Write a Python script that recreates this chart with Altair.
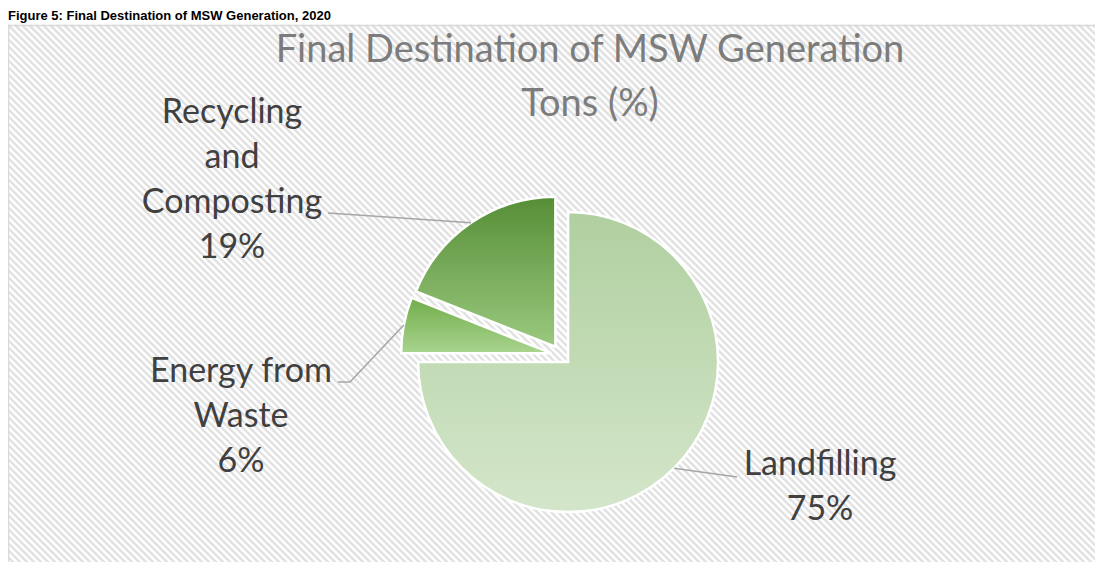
import math
import altair as alt
import pandas as pd

# ---- data ----
categories = ["Landfilling", "Energy from Waste", "Recycling and Composting"]
values = [75, 6, 19]
label_lines = ["Landfilling", "Energy from\nWaste", "Recycling\nand\nComposting"]
title_lines = ["Final Destination of MSW Generation", "Tons (%)"]
header = "Figure 5: Final Destination of MSW Generation, 2020"

# ---- style / layout ----
W, H = 1087, 554
BOX_TOP = 17
CX, CY = 553, 347
R = 150
EXPLODE = 10
grad = {
    "Landfilling": ("#b0cfa0", "#d4e6ca"),
    "Energy from Waste": ("#72ad4b", "#a9d48f"),
    "Recycling and Composting": ("#568e36", "#9bc97f"),
}
label_anchor = {
    "Landfilling": (812, 467),
    "Energy from Waste": (233, 374),
    "Recycling and Composting": (224, 115),
}
leader_start = {
    "Landfilling": [(729, 469)],
    "Energy from Waste": [(330, 374), (342, 374)],
    "Recycling and Composting": [(320, 205)],
}
LABEL_FONT = "Lato"
TEXT_COLOR = "#404040"

total = sum(values)
rows, lead = [], []
cum = 0
for i, (cat, v, lab) in enumerate(zip(categories, values, label_lines)):
    start, end = cum, cum + v
    cum = end
    mid = (start + v / 2) / total * 2 * math.pi
    px = CX + EXPLODE * math.sin(mid)
    py = CY - EXPLODE * math.cos(mid)
    tx, ty = label_anchor[cat]
    rows.append(dict(category=cat, value=v, start=start, end=end, px=px, py=py,
                     text=f"{lab}\n{v}%", tx=tx, ty=ty))
    pts = list(leader_start[cat]) + [(px + R * math.sin(mid), py - R * math.cos(mid))]
    for j, (lx, ly) in enumerate(pts):
        lead.append(dict(category=cat, seq=j, lx=lx, ly=ly))

pie_df = pd.DataFrame(rows)
lead_df = pd.DataFrame(lead)
one = pd.DataFrame({"a": [0]})

# background hatch
hatch = alt.Chart(alt.sequence(-H - 20, W + 20, 7, as_="x0")).transform_calculate(
    xe=f"datum.x0 + {H + 10 - BOX_TOP}"
).mark_rule(color="#e2e2e2", strokeWidth=2.6).encode(
    x=alt.X("x0:Q", scale=None), x2="xe:Q", y=alt.value(BOX_TOP), y2=alt.value(H + 10)
)

box = alt.Chart(one).mark_rect(fill=None, stroke="#d9d9d9", strokeWidth=1.5).encode(
    x=alt.value(0.5), y=alt.value(BOX_TOP + 0.5), x2=alt.value(W + 20), y2=alt.value(H + 20)
)

theta_scale = alt.Scale(domain=[0, total], range=[0, 2 * math.pi])
arcs = []
for cat in categories:
    top, bot = grad[cat]
    arcs.append(
        alt.Chart(pie_df).transform_filter(alt.datum.category == cat).mark_arc(
            outerRadius=R,
            stroke="white",
            strokeWidth=2.5,
            fill=alt.Gradient(
                gradient="linear",
                stops=[alt.GradientStop(color=top, offset=0),
                       alt.GradientStop(color=bot, offset=1)],
                x1=0, x2=0, y1=0, y2=1,
            ),
        ).encode(
            theta=alt.Theta("start:Q", scale=theta_scale),
            theta2="end:Q",
            x=alt.X("px:Q", scale=None),
            y=alt.Y("py:Q", scale=None),
        )
    )

leaders = alt.Chart(lead_df).mark_line(color="#a6a6a6", strokeWidth=1.5).encode(
    x=alt.X("lx:Q", scale=None), y=alt.Y("ly:Q", scale=None),
    detail="category:N", order="seq:Q"
)

labels = alt.Chart(pie_df).mark_text(
    font=LABEL_FONT, fontSize=34, color=TEXT_COLOR, lineBreak="\n", lineHeight=45,
    align="center", baseline="alphabetic"
).encode(text="text:N", x=alt.X("tx:Q", scale=None), y=alt.Y("ty:Q", scale=None))

title = alt.Chart(one).mark_text(
    text=title_lines, font=LABEL_FONT, fontSize=38, color="#7c7c7c",
    lineHeight=54, align="center", baseline="alphabetic"
).encode(x=alt.value(582), y=alt.value(54))

head = alt.Chart(one).mark_text(
    text=header, font="Liberation Sans", fontWeight="bold", fontSize=13, color="#000000",
    align="left", baseline="alphabetic"
).encode(x=alt.value(0), y=alt.value(12))

chart = alt.layer(hatch, box, *arcs, leaders, labels, title, head).properties(
    width=W, height=H, padding=0, autosize=alt.AutoSizeParams(type="none"),
    background="white"
).configure_view(stroke=None)

chart.save("out.html", embed_options={"renderer": "svg", "actions": False})
